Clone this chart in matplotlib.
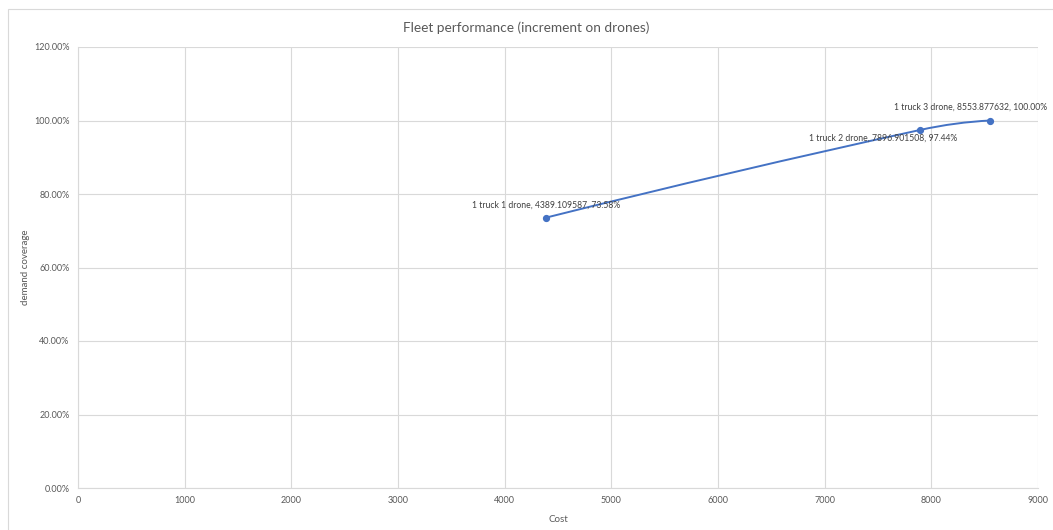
import matplotlib.pyplot as plt
from matplotlib.path import Path
from matplotlib.patches import PathPatch, Rectangle
from matplotlib.ticker import FuncFormatter

# fleet configurations
labels = ["1 truck 1 drone", "1 truck 2 drone", "1 truck 3 drone"]
cost = [4389.109587, 7896.901508, 8553.877632]
coverage = [0.7358, 0.9744, 1.0000]

blue = "#4472C4"
grey = "#595959"
plt.rcParams['font.family'] = ['Lato', 'DejaVu Sans']

fig = plt.figure(figsize=(10.53, 5.30), dpi=100)
# chart area border like excel
fig.patches.append(Rectangle((8 / 1053, -0.1), 1.2, 1.1 - 9 / 530,
                             transform=fig.transFigure, fill=False,
                             edgecolor="#d9d9d9", linewidth=0.8))
ax = fig.add_axes([78 / 1053, 42 / 530, 960 / 1053, 441 / 530])

# smoothed line: hermite curve with slopes taken from the neighbours
n = len(cost)
chord = [(coverage[i + 1] - coverage[i]) / (cost[i + 1] - cost[i]) for i in range(n - 1)]
slope = [0.0] * n
for i in range(1, n - 1):
    slope[i] = (coverage[i + 1] - coverage[i - 1]) / (cost[i + 1] - cost[i - 1])
slope[0] = 2 * chord[0] - slope[1]
slope[-1] = max(0.0, 2 * chord[-1] - slope[-2])
verts = [(cost[0], coverage[0])]
codes = [Path.MOVETO]
for i in range(n - 1):
    dx = (cost[i + 1] - cost[i]) / 3
    verts += [(cost[i] + dx, coverage[i] + slope[i] * dx),
              (cost[i + 1] - dx, coverage[i + 1] - slope[i + 1] * dx),
              (cost[i + 1], coverage[i + 1])]
    codes += [Path.CURVE4] * 3
ax.add_patch(PathPatch(Path(verts, codes), fill=False, edgecolor=blue, linewidth=1.4, zorder=3))
ax.plot(cost, coverage, "o", color=blue, markersize=4.2, zorder=4)

offsets = [(0, 6, "bottom"), (-27, -3, "top"), (-14, 6, "bottom")]
for lab, x, y, (dx, dy, va) in zip(labels, cost, coverage, offsets):
    ax.annotate(f"{lab}, {x}, {y * 100:.2f}%", (x, y), xytext=(dx, dy),
                textcoords="offset points", ha="center", va=va, fontsize=6.2,
                color="#404040", annotation_clip=False, zorder=5)

ax.set_xlim(0, 9000)
ax.set_ylim(0, 1.2)
ax.set_xticks(range(0, 9001, 1000))
ax.set_yticks([0, 0.2, 0.4, 0.6, 0.8, 1.0, 1.2])
ax.yaxis.set_major_formatter(FuncFormatter(lambda v, p: f"{v * 100:.2f}%"))
ax.grid(True, color="#d9d9d9", linewidth=0.8)
ax.set_axisbelow(True)
for s in ["top", "right"]:
    ax.spines[s].set_visible(False)
for s in ["left", "bottom"]:
    ax.spines[s].set_color("#d9d9d9")
ax.tick_params(length=0, labelsize=6.5, labelcolor=grey, pad=6)

ax.set_xlabel("Cost", fontsize=7, color=grey)
ax.set_ylabel("demand coverage", fontsize=7, color=grey)
ax.xaxis.set_label_coords(0.5, -0.061)
ax.yaxis.set_label_coords(-0.05, 0.5)
fig.text(0.5, 0.948, "Fleet performance (increment on drones)", ha="center", va="center",
         fontsize=9.8, color=grey)

fig.savefig("out.png", dpi=100)
